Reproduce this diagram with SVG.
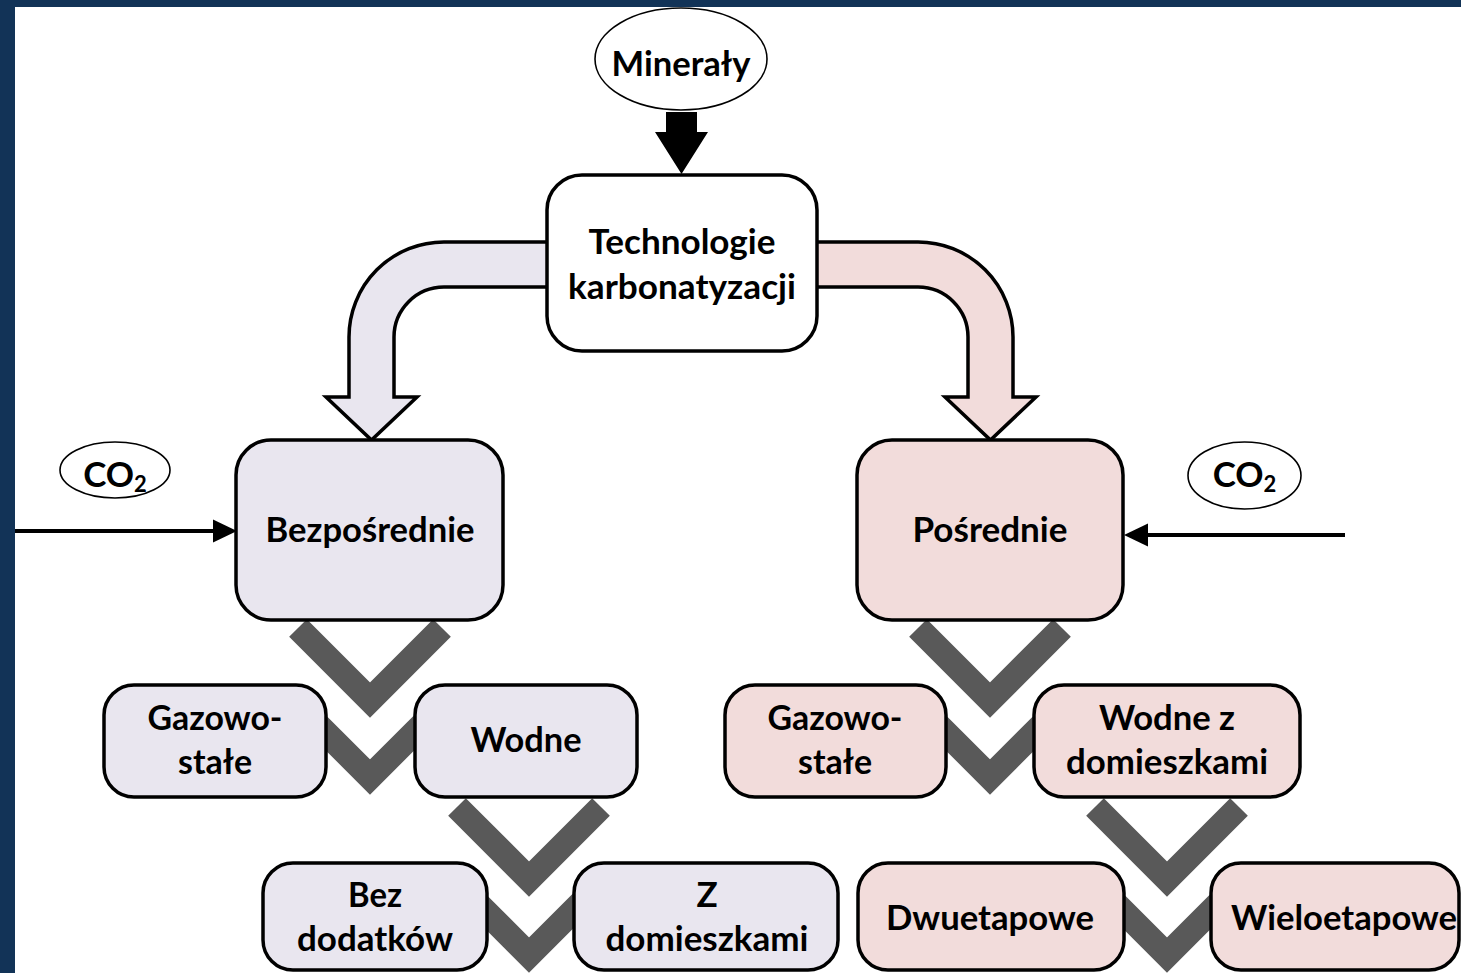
<svg xmlns="http://www.w3.org/2000/svg" xmlns:xlink="http://www.w3.org/1999/xlink" width="1461" height="973" viewBox="0 0 1461 973">
  <style>
    .lbl { font-family: "Lato", "Liberation Sans", sans-serif; font-weight: 700; font-size: 35px; fill: #000; text-anchor: middle; }
    .sub { font-size: 22px; }
    .box { stroke: #000; stroke-width: 3.5; }
    .plain { fill: #fff; }
    .lav { fill: #E9E6EF; }
    .pink { fill: #F2DCDB; }
    .oval { fill: #fff; stroke: #000; stroke-width: 1.6; }
    .chev { fill: none; stroke: #595959; stroke-width: 25; stroke-linejoin: miter; stroke-linecap: butt; }
    .bend { stroke: #000; stroke-width: 3.5; stroke-linejoin: miter; }
    .feed { stroke: #000; stroke-width: 4; fill: none; }
  </style>
  <defs>
    <path id="vee" d="M-72,-72 L0,0 L72,-72"/>
  </defs>

  <!-- page background and dark frame -->
  <rect x="0" y="0" width="1461" height="973" fill="#fff"/>
  <rect x="0" y="0" width="15" height="973" fill="#123357"/>
  <rect x="0" y="0" width="1461" height="7" fill="#123357"/>

  <g id="connectors">
    <!-- branching chevrons under each level -->
    <use xlink:href="#vee" class="chev" transform="translate(370,700)"/>
    <use xlink:href="#vee" class="chev" transform="translate(370,777)"/>
    <use xlink:href="#vee" class="chev" transform="translate(529,879)"/>
    <use xlink:href="#vee" class="chev" transform="translate(529,955)"/>
    <use xlink:href="#vee" class="chev" transform="translate(990,700)"/>
    <use xlink:href="#vee" class="chev" transform="translate(990,777)"/>
    <use xlink:href="#vee" class="chev" transform="translate(1167,879)"/>
    <use xlink:href="#vee" class="chev" transform="translate(1167,955)"/>

    <!-- bent block arrows from the main box -->
    <path class="bend lav" d="M560,242 L444,242 A95,95 0 0 0 349,337 L349,397 L326,397 L371.5,440 L417,397 L394,397 L394,337 A50,50 0 0 1 444,287 L560,287 Z"/>
    <path class="bend pink" d="M805,242 L918,242 A95,95 0 0 1 1013,337 L1013,397 L1036,397 L990.5,440 L945,397 L968,397 L968,337 A50,50 0 0 0 918,287 L805,287 Z"/>

    <!-- mineral feed arrow -->
    <polygon points="666,112 697,112 697,132 708,132 681.5,174 655,132 666,132" fill="#000"/>

    <!-- CO2 feed lines -->
    <line class="feed" x1="15" y1="531" x2="215" y2="531"/>
    <polygon points="213,519.5 237,531 213,542.5" fill="#000"/>
    <line class="feed" x1="1345" y1="535" x2="1146" y2="535"/>
    <polygon points="1148,523.5 1124,535 1148,546.5" fill="#000"/>
  </g>

  <g id="node-mineraly">
    <ellipse class="oval" cx="681" cy="59" rx="86" ry="51"/>
    <text class="lbl" x="681" y="76" textLength="139" lengthAdjust="spacingAndGlyphs">Minerały</text>
  </g>

  <g id="node-technologie">
    <rect class="box plain" x="547" y="175" width="270" height="176" rx="35"/>
    <text class="lbl" x="682" y="254" textLength="187" lengthAdjust="spacingAndGlyphs">Technologie</text>
    <text class="lbl" x="682" y="299" textLength="228" lengthAdjust="spacingAndGlyphs">karbonatyzacji</text>
  </g>

  <g id="node-co2-left">
    <ellipse class="oval" cx="115" cy="470" rx="55" ry="28"/>
    <text class="lbl" x="115" y="487"><tspan>CO</tspan><tspan class="sub" dy="5">2</tspan></text>
  </g>

  <g id="node-co2-right">
    <ellipse class="oval" cx="1244.5" cy="475.5" rx="56.5" ry="33.5"/>
    <text class="lbl" x="1244.5" y="487"><tspan>CO</tspan><tspan class="sub" dy="5">2</tspan></text>
  </g>

  <g id="node-bezposrednie">
    <rect class="box lav" x="236" y="440" width="267" height="180" rx="35"/>
    <text class="lbl" x="370" y="542" textLength="209" lengthAdjust="spacingAndGlyphs">Bezpośrednie</text>
  </g>

  <g id="node-posrednie">
    <rect class="box pink" x="857" y="440" width="266" height="180" rx="35"/>
    <text class="lbl" x="990" y="542" textLength="155" lengthAdjust="spacingAndGlyphs">Pośrednie</text>
  </g>

  <g id="node-gazowo-l">
    <rect class="box lav" x="104" y="685" width="222" height="112" rx="30"/>
    <text class="lbl" x="215" y="730" textLength="135" lengthAdjust="spacingAndGlyphs">Gazowo-</text>
    <text class="lbl" x="215" y="774" textLength="74" lengthAdjust="spacingAndGlyphs">stałe</text>
  </g>

  <g id="node-wodne">
    <rect class="box lav" x="415" y="685" width="222" height="112" rx="30"/>
    <text class="lbl" x="526" y="752" textLength="111" lengthAdjust="spacingAndGlyphs">Wodne</text>
  </g>

  <g id="node-gazowo-r">
    <rect class="box pink" x="725" y="685" width="221" height="112" rx="30"/>
    <text class="lbl" x="835" y="730" textLength="135" lengthAdjust="spacingAndGlyphs">Gazowo-</text>
    <text class="lbl" x="835" y="774" textLength="74" lengthAdjust="spacingAndGlyphs">stałe</text>
  </g>

  <g id="node-wodne-domieszki">
    <rect class="box pink" x="1034" y="685" width="266" height="112" rx="30"/>
    <text class="lbl" x="1167" y="730" textLength="136" lengthAdjust="spacingAndGlyphs">Wodne z</text>
    <text class="lbl" x="1167" y="774" textLength="202" lengthAdjust="spacingAndGlyphs">domieszkami</text>
  </g>

  <g id="node-bez-dodatkow">
    <rect class="box lav" x="263" y="863" width="224" height="107" rx="30"/>
    <text class="lbl" x="375" y="907" textLength="54" lengthAdjust="spacingAndGlyphs">Bez</text>
    <text class="lbl" x="375" y="951" textLength="156" lengthAdjust="spacingAndGlyphs">dodatków</text>
  </g>

  <g id="node-z-domieszkami">
    <rect class="box lav" x="574" y="863" width="264" height="107" rx="30"/>
    <text class="lbl" x="707" y="907">Z</text>
    <text class="lbl" x="707" y="951" textLength="203" lengthAdjust="spacingAndGlyphs">domieszkami</text>
  </g>

  <g id="node-dwuetapowe">
    <rect class="box pink" x="858" y="863" width="266" height="107" rx="30"/>
    <text class="lbl" x="990" y="930" textLength="208" lengthAdjust="spacingAndGlyphs">Dwuetapowe</text>
  </g>

  <g id="node-wieloetapowe">
    <rect class="box pink" x="1211" y="863" width="248" height="107" rx="30"/>
    <text class="lbl" x="1344" y="930" textLength="226" lengthAdjust="spacingAndGlyphs">Wieloetapowe</text>
  </g>
</svg>
